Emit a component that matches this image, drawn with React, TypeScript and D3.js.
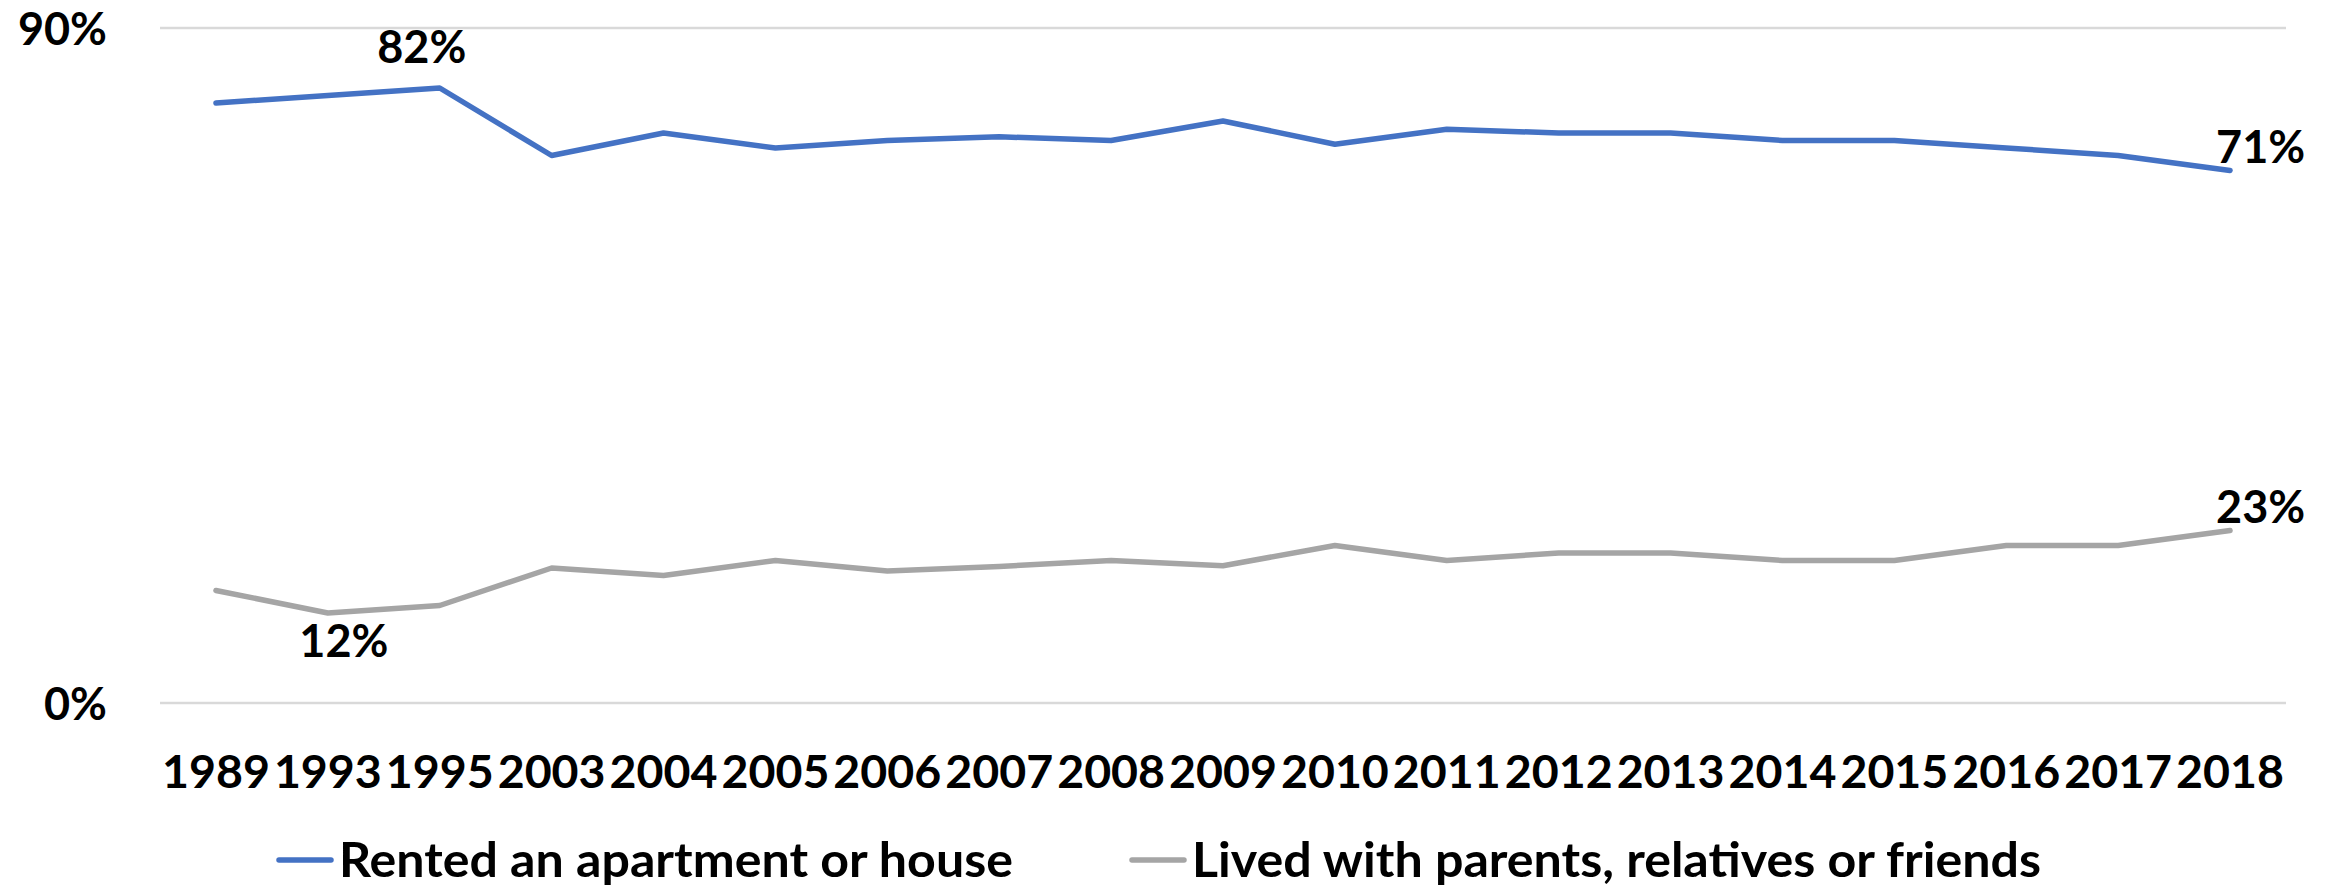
import React from 'react'
import * as d3 from 'd3'

const years = ['1989', '1993', '1995', '2003', '2004', '2005', '2006', '2007', '2008', '2009', '2010', '2011', '2012', '2013', '2014', '2015', '2016', '2017', '2018']
const rented = [80, 81, 82, 73, 76, 74, 75, 75.5, 75, 77.6, 74.5, 76.5, 76, 76, 75, 75, 74, 73, 71]
const lived = [15, 12, 13, 18, 17, 19, 17.6, 18.2, 19, 18.3, 21, 19, 20, 20, 19, 19, 21, 21, 23]
const yTicks = [0, 90]
const seriesNames = ['Rented an apartment or house', 'Lived with parents, relatives or friends']
const colors = ['#4472C4', '#A5A5A5']

const W = 2338
const H = 888
const font = 'Lato, "Open Sans", sans-serif'

export default function App() {
	const x = d3.scalePoint<string>().domain(years).range([160, 2286]).padding(0.5)
	const y = d3.scaleLinear().domain([0, 90]).range([703, 28])

	const line = d3.line<number>()
		.x((d, i) => x(years[i]) as number)
		.y(d => y(d))

	const series = [rented, lived]

	// labelled points: [series, index, dx, dy, anchor]
	const labels: [number, number, number, number, string][] = [
		[0, 2, -18, -25, 'middle'],
		[1, 1, 16, 44, 'middle'],
		[0, 18, -14, -8, 'start'],
		[1, 18, -14, -8, 'start'],
	]

	// legend placement
	const legendX = [279, 1132]
	const legendLen = [674, 849]

	return (
		<svg width={W} height={H} style={{ position: 'absolute', left: 0, top: 0, background: '#fff' }}
			fontFamily={font} fontWeight={700}>
			{yTicks.map(t => (
				<g key={t}>
					<line x1={160} x2={2286} y1={y(t)} y2={y(t)} stroke="#D9D9D9" strokeWidth={2.5} />
					<text x={107} y={y(t) + 17} textAnchor="end" fontSize={45} fill="#000">{t}%</text>
				</g>
			))}

			{series.map((s, k) => (
				<path key={k} d={line(s) || ''} fill="none" stroke={colors[k]} strokeWidth={5.5}
					strokeLinejoin="round" strokeLinecap="round" />
			))}

			{years.map(yr => (
				<text key={yr} x={x(yr)} y={788} textAnchor="middle" fontSize={46.5} fill="#000">{yr}</text>
			))}

			{labels.map(([k, i, dx, dy, anchor]) => (
				<text key={k + '-' + i} x={(x(years[i]) as number) + dx} y={y(series[k][i]) + dy}
					textAnchor={anchor} fontSize={45} fill="#000">{Math.round(series[k][i])}%</text>
			))}

			{seriesNames.map((name, k) => {
				const lx = legendX[k]
				return (
					<g key={name}>
						<line x1={lx} x2={lx + 52} y1={860} y2={860} stroke={colors[k]} strokeWidth={5.5} strokeLinecap="round" />
						<text x={lx + 60} y={877} fontSize={48} fill="#000"
							textLength={legendLen[k]} lengthAdjust="spacingAndGlyphs">{name}</text>
					</g>
				)
			})}
		</svg>
	)
}
